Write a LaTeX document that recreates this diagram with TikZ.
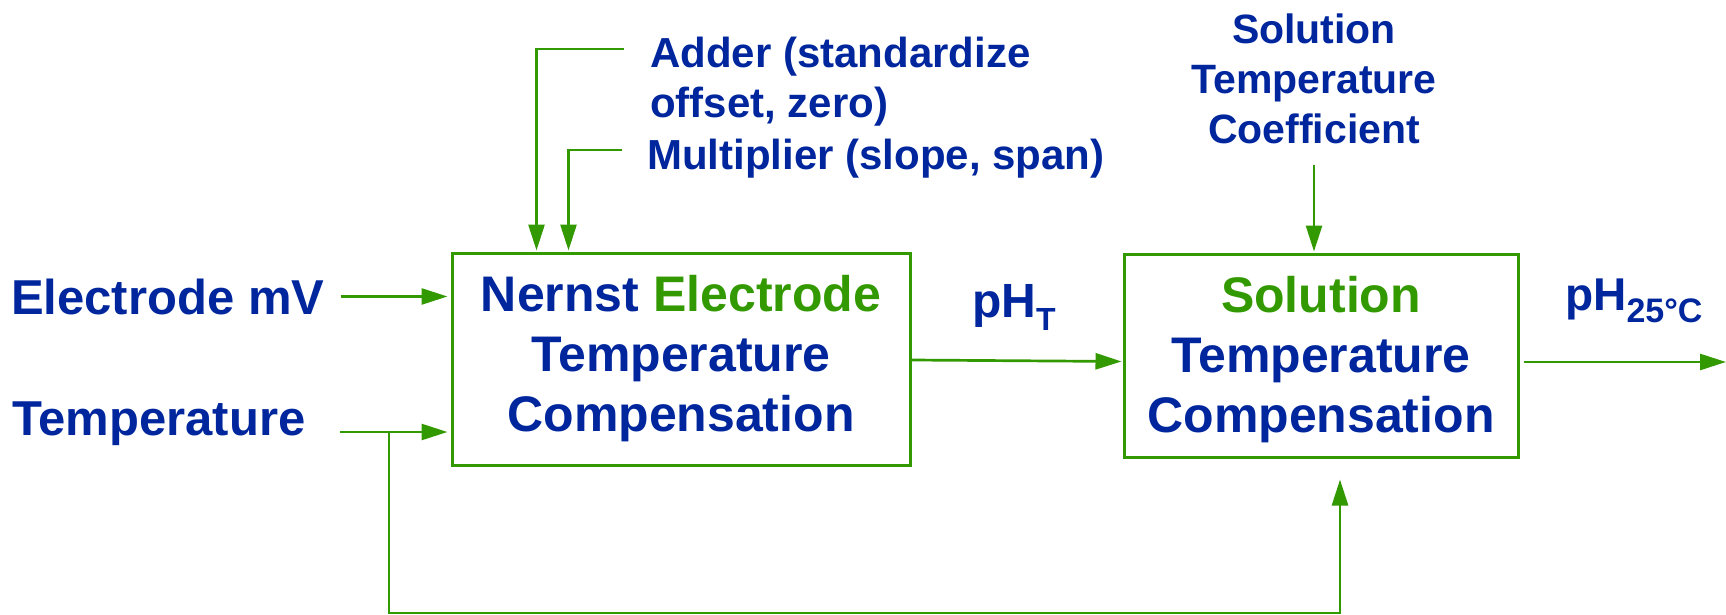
\documentclass[tikz,border=0pt]{standalone}
\usepackage{fontspec}
\setmainfont{Liberation Sans}
\usetikzlibrary{arrows.meta}
\definecolor{tblue}{RGB}{0,38,158}
\definecolor{tgreen}{RGB}{51,153,0}
\begin{document}
\begin{tikzpicture}[x=1pt,y=-1pt,
  lab/.style={text=tblue,inner sep=0pt},
  blk/.style={draw=tgreen,line width=3pt,text=tblue,font=\bfseries\fontsize{50}{60}\selectfont,align=center,inner sep=0pt},
  arr/.style={draw=tgreen,line width=2.7pt,-{Triangle[length=26pt,width=16pt]}}]
\useasboundingbox (0,0) rectangle (1726,615);
\node[blk,minimum width=458pt,minimum height=212pt] (box1) at (681,359) {Nernst \textcolor{tgreen}{Electrode}\\Temperature\\Compensation};
\node[blk,minimum width=394pt,minimum height=203pt] (box2) at (1321,355.5) {\rule{0pt}{44pt}\textcolor{tgreen}{Solution}\\Temperature\\Compensation};
\node[lab,anchor=base west,font=\bfseries\fontsize{49}{58}\selectfont] (emv) at (11,314) {Electrode mV};
\node[lab,anchor=base west,font=\bfseries\fontsize{49}{58}\selectfont] (temp) at (12,435) {Temperature};
\node[lab,anchor=base west,align=left,font=\bfseries\fontsize{42}{51}\selectfont] (adder) at (650,118) {Adder (standardize\\offset, zero)};
\node[lab,anchor=base west,font=\bfseries\fontsize{42}{51}\selectfont] (mult) at (647,169) {Multiplier (slope, span)};
\node[lab,anchor=base,align=center,font=\bfseries\fontsize{41}{50}\selectfont] (coef) at (1314,143) {Solution\\Temperature\\Coefficient};
\node[lab,anchor=base west,font=\bfseries\fontsize{48}{58}\selectfont] (pht) at (972,317) {pH\raisebox{-13pt}{\fontsize{32}{32}\selectfont T}};
\node[lab,anchor=base west,font=\bfseries\fontsize{46}{56}\selectfont] (ph25) at (1565,310) {pH\raisebox{-12pt}{\fontsize{34}{34}\selectfont 25°C}};
\coordinate (tin) at (340,432);
\coordinate (tbr) at (389,432);
\coordinate (bot) at (1340,613);
\coordinate (ain) at (624,49);
\coordinate (min) at (622,150);
\coordinate (outend) at (1726,362);
\draw[arr,shorten >=3pt] ([xshift=16pt]emv.east) -- (emv.east -| box1.west);
\draw[arr,shorten >=3pt] (tin) -- (tin -| box1.west);
\draw[arr,shorten >=21pt] (tbr) |- (bot) -- (bot |- box2.south);
\draw[arr,shorten >=1pt] (ain) -| ([xshift=86pt]box1.north west);
\draw[arr,shorten >=1pt] (min) -| ([xshift=118pt]box1.north west);
\draw[arr,shorten >=1pt] ([yshift=-21pt]coef.south) -- (coef.south |- box2.north);
\draw[arr,shorten >=1pt] ([yshift=-1pt]box1.east) -- ([yshift=-6pt]box2.west);
\draw[arr] ([yshift=-6.5pt,xshift=4pt]box2.east) -- (outend);
\end{tikzpicture}
\end{document}
